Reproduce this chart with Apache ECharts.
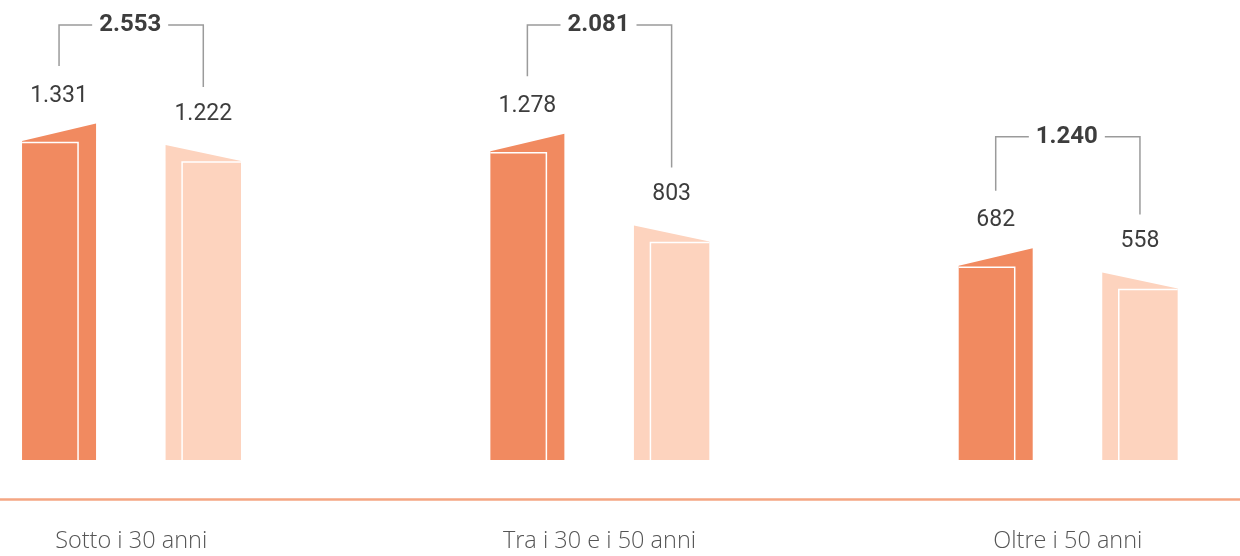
<!DOCTYPE html>
<html>
<head>
<meta charset="utf-8">
<script src="https://cdn.jsdelivr.net/npm/echarts@6/dist/echarts.min.js"></script>
<style>
html,body{margin:0;padding:0;background:#fff;}
#chart{width:1240px;height:556px;}
</style>
</head>
<body>
<div id="chart"></div>
<script>
const categories = ['Sotto i 30 anni', 'Tra i 30 e i 50 anni', 'Oltre i 50 anni'];
const darkValues = [1331, 1278, 682];
const lightValues = [1222, 803, 558];
const totals = [2553, 2081, 1240];

const Y_MIN = -330, Y_MAX = 2066;
const DARK = '#F18A60', LIGHT = '#FDD3BE', TEXT = '#3d3d3d', BRACKET = '#9b9b9b';

function fmt(v) { return String(v).replace(/\B(?=(\d{3})+(?!\d))/g, '.'); }

const chart = echarts.init(document.getElementById('chart'), null, {renderer: 'canvas'});

function barGeom(api, idx, sign, wf) {
  const band = api.size([1, 0])[0];
  const p = api.coord([idx, api.value(1)]);
  const base = api.coord([idx, Y_MIN])[1];
  const cx = p[0] + sign * band * 0.1540;
  const w = band * wf;
  return {cx: cx, x0: cx - w / 2, x1: cx + w / 2, y: p[1], base: base, w: w};
}

function renderDark(params, api) {
  const g = barGeom(api, api.value(0), -1, 0.158);
  const ix = g.x1 - 18;
  return {
    type: 'group',
    children: [
      {type: 'polygon', shape: {points: [[g.x0, g.base], [g.x0, g.y], [g.x1, g.y - 17.5], [g.x1, g.base]]}, style: {fill: DARK}},
      {type: 'polyline', shape: {points: [[g.x0, g.y + 1.5], [ix, g.y + 1.5], [ix, g.base]]}, style: {stroke: '#fff', lineWidth: 1.5, fill: null}},
      {type: 'text', x: g.cx, y: g.y - 45, style: {text: fmt(api.value(1)), fill: TEXT, font: '400 23px Roboto', align: 'center', verticalAlign: 'middle'}}
    ]
  };
}

function renderLight(params, api) {
  const g = barGeom(api, api.value(0), 1, 0.161);
  const ix = g.x0 + 16.5;
  return {
    type: 'group',
    children: [
      {type: 'polygon', shape: {points: [[g.x0, g.base], [g.x0, g.y - 17], [g.x1, g.y - 1], [g.x1, g.base]]}, style: {fill: LIGHT}},
      {type: 'polyline', shape: {points: [[g.x1, g.y], [ix, g.y], [ix, g.base]]}, style: {stroke: '#fff', lineWidth: 1.5, fill: null}},
      {type: 'text', x: g.cx, y: g.y - 48, style: {text: fmt(api.value(1)), fill: TEXT, font: '400 23px Roboto', align: 'center', verticalAlign: 'middle'}}
    ]
  };
}

function renderBracket(params, api) {
  const idx = api.value(0);
  const band = api.size([1, 0])[0];
  const pd = api.coord([idx, api.value(1)]);
  const pl = api.coord([idx, api.value(2)]);
  const xd = pd[0] - band * 0.1540;
  const xl = pl[0] + band * 0.1540;
  const by = Math.max(25, Math.min(pd[1], pl[1]) - 129);
  const mid = (xd + xl) / 2;
  const ls = {stroke: BRACKET, lineWidth: 1.5, fill: null};
  return {
    type: 'group',
    children: [
      {type: 'polyline', shape: {points: [[xd, pd[1] - 75], [xd, by], [mid - 39, by]]}, style: ls},
      {type: 'polyline', shape: {points: [[mid + 37, by], [xl, by], [xl, pl[1] - 75]]}, style: ls},
      {type: 'text', x: mid - 1, y: by, style: {text: fmt(api.value(3)), fill: TEXT, font: '700 24px Roboto', align: 'center', verticalAlign: 'middle'}}
    ]
  };
}

chart.setOption({
  animation: false,
  grid: {left: -103, width: 1405, top: 0, bottom: 96, containLabel: false, outerBoundsMode: 'none'},
  xAxis: {
    type: 'category',
    data: categories,
    offset: 39,
    axisTick: {show: false},
    axisLine: {onZero: false, lineStyle: {color: '#F4A683', width: 2.5}},
    axisLabel: {color: '#555', fontSize: 23.5, fontFamily: 'Open Sans', fontWeight: 300, margin: 30}
  },
  yAxis: {type: 'value', min: Y_MIN, max: Y_MAX, show: false, splitLine: {show: false}},
  series: [
    {type: 'custom', name: 'A', clip: false, renderItem: renderDark, data: darkValues.map((v, i) => [i, v])},
    {type: 'custom', name: 'B', clip: false, renderItem: renderLight, data: lightValues.map((v, i) => [i, v])},
    {type: 'custom', name: 'Totale', clip: false, renderItem: renderBracket, data: totals.map((t, i) => [i, darkValues[i], lightValues[i], t])}
  ]
});
</script>
</body>
</html>
